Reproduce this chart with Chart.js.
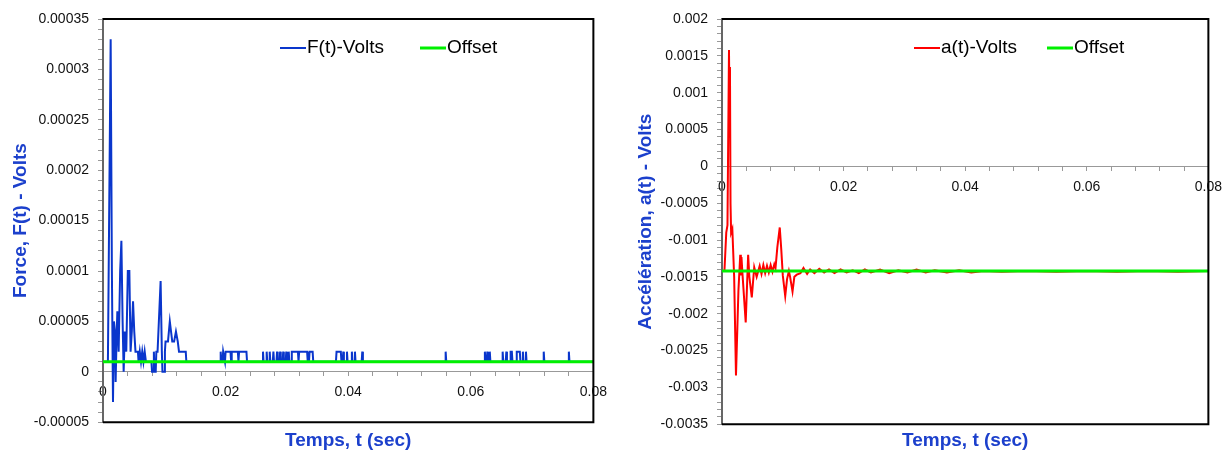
<!DOCTYPE html>
<html>
<head>
<meta charset="utf-8">
<script src="https://cdn.jsdelivr.net/npm/chart.js@4.4.1/dist/chart.umd.min.js"></script>
<style>
  body { margin: 0; background: #fff; }
  #wrap { display: flex; width: 1230px; height: 453px; }
  canvas { display: block; }
</style>
</head>
<body>
<div id="wrap">
  <canvas id="forceChart" width="615" height="453"></canvas>
  <canvas id="accelChart" width="615" height="453"></canvas>
</div>
<script>
// ---- data (time in sec, signal in volts) ----
const timeTickLabels = [0, 0.02, 0.04, 0.06, 0.08];
const forceTickLabels = [-0.00005, 0, 0.00005, 0.0001, 0.00015, 0.0002, 0.00025, 0.0003, 0.00035];
const accelTickLabels = [-0.0035, -0.003, -0.0025, -0.002, -0.0015, -0.001, -0.0005, 0, 0.0005, 0.001, 0.0015, 0.002];

const offsetTime = [0, 0.08];
const forceOffset = [0.00001, 0.00001];
const accelOffset = [-0.00142, -0.00142];

const forceSamples = [
  [0, 1e-5], [0.0006, 1e-5], [0.0008, 1e-5], [0.00125, 33e-5], [0.00145, 10e-5], [0.00163, -3e-5],
  [0.00179, 5e-5], [0.00195, 4e-5], [0.00206, -1e-5], [0.0022, 3e-5], [0.00234, 6e-5], [0.00255, 2e-5],
  [0.0028, 10e-5], [0.003, 13e-5], [0.0032, 5e-5], [0.00337, 0], [0.00356, 4e-5], [0.0038, 2e-5],
  [0.00405, 10e-5], [0.0043, 10e-5], [0.0045, 2e-5], [0.0047, 4e-5], [0.0049, 7e-5], [0.0051, 4e-5],
  [0.0053, 2e-5], [0.0057, 2e-5], [0.0058, 1e-5], [0.006, 2e-5], [0.0062, 1e-5], [0.0064, 2e-5],
  [0.0066, 1e-5], [0.0068, 2e-5], [0.007, 1e-5], [0.0079, 1e-5], [0.008, 0], [0.0082, 0],
  [0.0083, 2e-5], [0.0084, 0], [0.0086, 0], [0.0087, 2e-5], [0.0089, 2e-5], [0.0094, 9e-5],
  [0.0096, 2e-5], [0.0097, 0], [0.01, 0], [0.0101, 2e-5], [0.0102, 3e-5], [0.0106, 3e-5],
  [0.0109, 5e-5], [0.0113, 3e-5], [0.0116, 3e-5], [0.0119, 4e-5], [0.0122, 3e-5], [0.0124, 2e-5],
  [0.0135, 2e-5], [0.0136, 1e-5],
  [0.0191, 1e-5], [0.0192, 2e-5], [0.0193, 1e-5], [0.0195, 1e-5], [0.0196, 2e-5], [0.0199, 1e-5],
  [0.02, 2e-5], [0.0208, 2e-5], [0.0209, 1e-5], [0.021, 2e-5], [0.022, 2e-5], [0.0221, 1e-5],
  [0.0222, 2e-5], [0.0234, 2e-5], [0.0235, 1e-5],
  [0.026, 1e-5], [0.0261, 2e-5], [0.0262, 1e-5], [0.0266, 1e-5], [0.0267, 2e-5], [0.0268, 1e-5],
  [0.0271, 1e-5], [0.0272, 2e-5], [0.0273, 1e-5], [0.0277, 1e-5], [0.0278, 2e-5], [0.0279, 1e-5],
  [0.0283, 1e-5], [0.0284, 2e-5], [0.0285, 1e-5], [0.0288, 1e-5], [0.0289, 2e-5], [0.029, 1e-5],
  [0.0293, 1e-5], [0.0294, 2e-5], [0.0295, 1e-5], [0.0298, 1e-5], [0.0299, 2e-5], [0.03, 1e-5],
  [0.0302, 1e-5], [0.0303, 2e-5], [0.0304, 1e-5], [0.0307, 1e-5], [0.0308, 2e-5], [0.0318, 2e-5],
  [0.0319, 1e-5], [0.032, 2e-5], [0.0333, 2e-5], [0.0334, 1e-5], [0.0336, 1e-5], [0.0337, 2e-5],
  [0.0342, 2e-5], [0.0343, 1e-5],
  [0.038, 1e-5], [0.0381, 2e-5], [0.0388, 2e-5], [0.0389, 1e-5], [0.0391, 1e-5], [0.0392, 2e-5],
  [0.0393, 1e-5], [0.0397, 1e-5], [0.0398, 2e-5], [0.0399, 1e-5], [0.0405, 1e-5], [0.0406, 2e-5],
  [0.0407, 1e-5], [0.041, 1e-5], [0.0411, 2e-5], [0.0412, 1e-5], [0.0422, 1e-5], [0.0423, 2e-5],
  [0.0424, 1e-5],
  [0.0558, 1e-5], [0.0559, 2e-5], [0.056, 1e-5], [0.0622, 1e-5], [0.0623, 2e-5], [0.0624, 1e-5],
  [0.0626, 1e-5], [0.0627, 2e-5], [0.0628, 1e-5], [0.063, 1e-5], [0.0631, 2e-5], [0.0632, 1e-5],
  [0.0651, 1e-5], [0.0652, 2e-5], [0.0653, 1e-5], [0.0657, 1e-5], [0.0658, 2e-5], [0.0659, 1e-5],
  [0.0664, 1e-5], [0.0665, 2e-5], [0.0667, 2e-5], [0.0668, 1e-5], [0.0674, 1e-5], [0.0675, 2e-5],
  [0.068, 2e-5], [0.0681, 1e-5], [0.0684, 1e-5], [0.0685, 2e-5], [0.0686, 1e-5], [0.0689, 1e-5],
  [0.069, 2e-5], [0.0691, 1e-5], [0.0718, 1e-5], [0.0719, 2e-5], [0.072, 1e-5], [0.0759, 1e-5],
  [0.076, 2e-5], [0.0761, 1e-5], [0.08, 1e-5]
];

const accelSamples = [
  [0, -0.00142], [0.0004, -0.00142], [0.0007, -0.0009], [0.0009, -0.0008], [0.00115, 0.00158],
  [0.00123, 0.0008], [0.00131, 0.00135], [0.0014, -0.0005], [0.0015, -0.0009], [0.0017, -0.00085],
  [0.002, -0.0015], [0.0023, -0.00284], [0.0027, -0.00169], [0.003, -0.0012], [0.0031, -0.00148],
  [0.0032, -0.00123], [0.0034, -0.0015], [0.0039, -0.00212], [0.0043, -0.0012], [0.0045, -0.0015],
  [0.0049, -0.00178], [0.0053, -0.00137], [0.0057, -0.0015], [0.0062, -0.00135], [0.0065, -0.00146],
  [0.0068, -0.00134], [0.0071, -0.00145], [0.0074, -0.00135], [0.0077, -0.00144], [0.008, -0.00134],
  [0.0083, -0.00143], [0.0086, -0.00133], [0.0088, -0.00138], [0.0091, -0.0011], [0.0095, -0.00083],
  [0.00975, -0.00113], [0.01, -0.00148], [0.0104, -0.00176], [0.0107, -0.00153], [0.011, -0.00142],
  [0.0112, -0.0015], [0.0116, -0.0017], [0.0119, -0.0015], [0.0123, -0.00147], [0.0129, -0.00145],
  [0.0134, -0.00138], [0.014, -0.00146], [0.0145, -0.0014], [0.0152, -0.00145], [0.016, -0.00139],
  [0.0168, -0.00144], [0.0176, -0.0014], [0.0185, -0.00145], [0.0195, -0.0014], [0.0205, -0.00144],
  [0.0215, -0.00141], [0.0225, -0.00145], [0.0235, -0.0014], [0.0245, -0.00144], [0.026, -0.0014],
  [0.0275, -0.00145], [0.029, -0.00141], [0.0305, -0.00144], [0.032, -0.0014], [0.0335, -0.00144],
  [0.035, -0.00141], [0.037, -0.00144], [0.039, -0.00141], [0.041, -0.00144], [0.043, -0.00142],
  [0.046, -0.00143], [0.05, -0.00142], [0.055, -0.00143], [0.06, -0.00142], [0.065, -0.00143],
  [0.07, -0.00142], [0.075, -0.00143], [0.08, -0.00142]
];

// ---- helpers ----
const FONT = "'Liberation Sans', Arial, sans-serif";
const TITLE_BLUE = '#1c40cc';

function toPoints(pairs) {
  return pairs.map(([t, v]) => ({ x: t, y: v }));
}

function offsetPoints(values) {
  return offsetTime.map((t, i) => ({ x: t, y: values[i] }));
}

function labelIfListed(list) {
  return function (value) {
    const hit = list.find(l => Math.abs(l - value) < 1e-9);
    return hit === undefined ? '' : String(parseFloat(hit.toFixed(6)));
  };
}

// black frame on top, right and bottom of the plot area
const framePlugin = {
  id: 'frame',
  afterDatasetsDraw(chart) {
    const { ctx, chartArea: a } = chart;
    ctx.save();
    ctx.strokeStyle = '#000';
    ctx.lineWidth = 2;
    ctx.beginPath();
    ctx.moveTo(a.left, a.top);
    ctx.lineTo(a.right, a.top);
    ctx.lineTo(a.right, a.bottom);
    ctx.lineTo(a.left, a.bottom);
    ctx.stroke();
    ctx.restore();
  }
};

// legend drawn inside the plot area
const insideLegend = {
  id: 'insideLegend',
  afterDraw(chart, args, opts) {
    const { ctx, chartArea: a } = chart;
    ctx.save();
    ctx.font = '19px ' + FONT;
    ctx.textBaseline = 'middle';
    ctx.fillStyle = '#000';
    chart.data.datasets.forEach((ds, i) => {
      const x = a.left + opts.offsets[i];
      const y = a.top + opts.top;
      ctx.strokeStyle = ds.borderColor;
      ctx.lineWidth = ds.borderWidth;
      ctx.beginPath();
      ctx.moveTo(x, y);
      ctx.lineTo(x + 26, y);
      ctx.stroke();
      ctx.fillText(ds.label, x + 27, y);
    });
    ctx.restore();
  }
};

function buildChart(id, cfg) {
  const ctx = document.getElementById(id).getContext('2d');
  return new Chart(ctx, {
    type: 'line',
    data: {
      datasets: [{
        label: cfg.label,
        data: toPoints(cfg.samples),
        borderColor: cfg.color,
        borderWidth: 2,
        pointRadius: 0,
        tension: 0,
        order: 1
      }, {
        label: 'Offset',
        data: offsetPoints(cfg.offset),
        borderColor: '#00f000',
        borderWidth: 3,
        pointRadius: 0,
        order: 0
      }]
    },
    options: {
      responsive: false,
      animation: false,
      devicePixelRatio: 1,
      layout: { padding: { top: 19, right: 20, bottom: 1, left: 0 } },
      scales: {
        x: {
          type: 'linear',
          position: { y: 0 },
          min: 0,
          max: 0.08,
          border: { display: true, color: '#999', width: 1 },
          grid: { drawOnChartArea: false, drawTicks: true, tickLength: 4, color: '#999' },
          ticks: {
            stepSize: 0.004,
            autoSkip: false,
            maxRotation: 0,
            padding: 8,
            color: '#111',
            font: { family: FONT, size: 14 },
            callback: labelIfListed(timeTickLabels)
          }
        },
        y: {
          type: 'linear',
          position: 'left',
          min: cfg.yMin,
          max: cfg.yMax,
          afterFit(scale) { scale.width = cfg.axisWidth; },
          border: { display: true, color: '#666', width: 2 },
          grid: { drawOnChartArea: false, drawTicks: true, tickLength: 5, color: '#999' },
          ticks: {
            stepSize: cfg.yMinor,
            autoSkip: false,
            padding: 9,
            color: '#111',
            font: { family: FONT, size: 14 },
            callback: labelIfListed(cfg.yLabels)
          },
          title: {
            display: true,
            text: cfg.yTitle,
            color: TITLE_BLUE,
            font: { family: FONT, size: 19, weight: 'bold' },
            padding: { top: cfg.yTitlePad, bottom: 0 }
          }
        }
      },
      plugins: {
        legend: { display: false },
        tooltip: { enabled: false },
        title: {
          display: true,
          position: 'bottom',
          fullSize: false,
          text: 'Temps, t (sec)',
          color: TITLE_BLUE,
          font: { family: FONT, size: 19, weight: 'bold' },
          padding: { top: cfg.xTitlePad, bottom: 0 }
        },
        insideLegend: { top: 29, offsets: cfg.legendOffsets }
      }
    },
    plugins: [framePlugin, insideLegend]
  });
}

buildChart('forceChart', {
  label: 'F(t)-Volts',
  samples: forceSamples,
  offset: forceOffset,
  color: '#0a36cc',
  yMin: -0.00005,
  yMax: 0.00035,
  yMinor: 0.00001,
  yLabels: forceTickLabels,
  yTitle: 'Force, F(t) - Volts',
  yTitlePad: 9,
  axisWidth: 103,
  xTitlePad: 7,
  legendOffsets: [177, 317]
});

buildChart('accelChart', {
  label: 'a(t)-Volts',
  samples: accelSamples,
  offset: accelOffset,
  color: '#ff0000',
  yMin: -0.0035,
  yMax: 0.002,
  yMinor: 0.0001,
  yLabels: accelTickLabels,
  yTitle: 'Accélération, a(t) - Volts',
  yTitlePad: 19,
  axisWidth: 107,
  xTitlePad: 5,
  legendOffsets: [192, 325]
});
</script>
</body>
</html>
